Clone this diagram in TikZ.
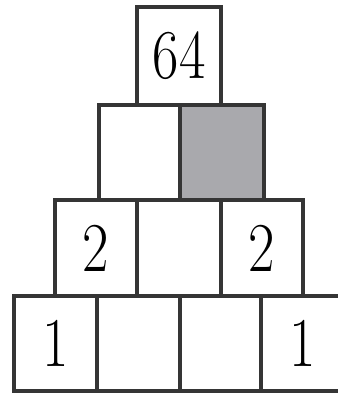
\documentclass[tikz,border=0pt]{standalone}
\usepackage{graphicx}
\definecolor{edge}{HTML}{353535}
\definecolor{shade}{HTML}{A9A9AD}
\tikzset{
  cell/.style={draw=edge, line width=3.2pt, inner sep=0pt, font=\fontsize{70}{70}\selectfont},
}
\newcommand{\dg}[1]{\scalebox{0.82}[1]{#1}}
\begin{document}
\begin{tikzpicture}[x=1pt,y=-1pt]
\useasboundingbox (0,0) rectangle (337,393);
% row 1
\node[cell, minimum width=84pt, minimum height=98pt] (r1a) at (179,56) {\dg{64}};
% row 2
\node[cell, minimum width=81pt, minimum height=95pt] (r2a) at (139.5,152.5) {};
\node[cell, fill=shade, minimum width=84pt, minimum height=95pt] (r2b) at (222,152.5) {};
% row 3
\node[cell, minimum width=82pt, minimum height=96pt] (r3a) at (96,248) {\dg{2}};
\node[cell, minimum width=84pt, minimum height=96pt] (r3b) at (179,248) {};
\node[cell, minimum width=82pt, minimum height=96pt] (r3c) at (262,248) {\dg{2}};
% row 4
\node[cell, minimum width=83pt, minimum height=95pt] (r4a) at (55.5,343.5) {\dg{1}};
\node[cell, minimum width=83pt, minimum height=95pt] (r4b) at (138.5,343.5) {};
\node[cell, minimum width=81pt, minimum height=95pt] (r4c) at (220.5,343.5) {};
\node[cell, minimum width=83pt, minimum height=95pt] (r4d) at (302.5,343.5) {\dg{1}};
\end{tikzpicture}
\end{document}
